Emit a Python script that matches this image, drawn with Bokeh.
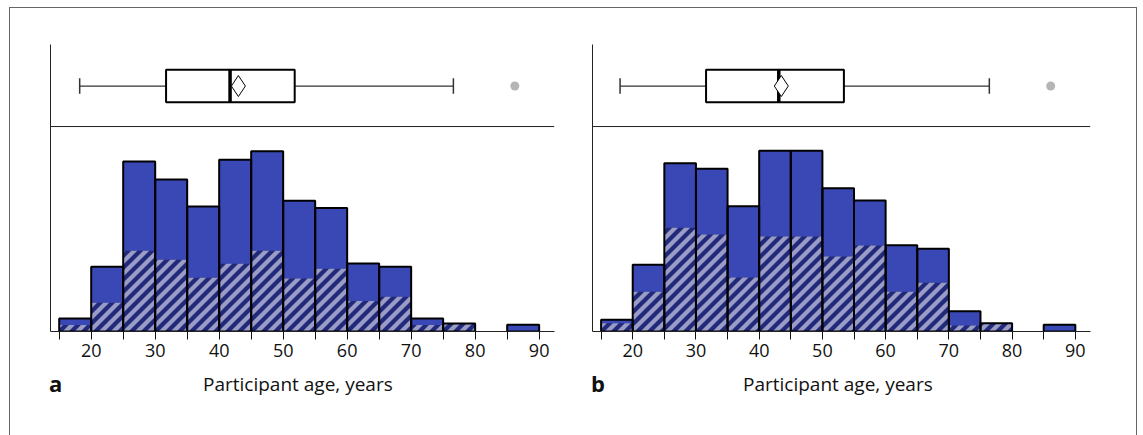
import math
from bokeh.plotting import figure
from bokeh.layouts import row, column
from bokeh.models import Range1d, FixedTicker, Span, Div, InlineStyleSheet
from bokeh.embed import file_html
from bokeh.resources import INLINE

# ---- data (values in % of participants) ----
bin_edges = [15, 20, 25, 30, 35, 40, 45, 50, 55, 60, 65, 70, 75, 80, 85, 90]

a_all = [1.01, 5.02, 13.18, 11.78, 9.69, 13.31, 13.98, 10.13, 9.57, 5.27, 5.02, 1.01, 0.62, 0.0, 0.52]
a_sub = [0.50, 2.22, 6.26, 5.56, 4.16, 5.25, 6.26, 4.11, 4.86, 2.36, 2.69, 0.50, 0.62, 0.0, 0.0]

b_all = [0.91, 5.17, 13.05, 12.61, 9.71, 14.01, 14.01, 11.11, 10.16, 6.69, 6.41, 1.57, 0.64, 0.0, 0.52]
b_sub = [0.64, 3.08, 8.04, 7.52, 4.19, 7.36, 7.36, 5.81, 6.67, 3.08, 3.78, 0.47, 0.64, 0.0, 0.0]

# box plot: lower whisker, Q1, median, Q3, upper whisker
a_box = [18.2, 31.7, 41.7, 51.8, 76.6]
a_mean = 43.0
a_outliers = [86.2]

b_box = [18.0, 31.6, 43.1, 53.4, 76.4]
b_mean = 43.5
b_outliers = [86.1]

major_ticks = [20, 30, 40, 50, 60, 70, 80, 90]
minor_ticks = [15, 25, 35, 45, 55, 65, 75, 85]
x_title = "Participant age, years"
panel_letters = ["a", "b"]

BLUE = "#3a48b5"
NAVY = "#20297a"
LIGHT = "#9a9cc6"
FONT = "Open Sans"
FIG_H = 368
X0, X1 = 13.64, 92.4
Y0, Y1 = 0, 22.25
STRIPE_PERIOD = 12.0   # px, horizontal
STRIPE_WIDTH = 6.0     # px, horizontal


def clip_half(poly, a, b, c):
    """Keep the part of a convex polygon where a*x + b*y <= c."""
    out = []
    n = len(poly)
    for i in range(n):
        P, Q = poly[i], poly[(i + 1) % n]
        fp = a * P[0] + b * P[1] - c
        fq = a * Q[0] + b * Q[1] - c
        if fp <= 0:
            out.append(P)
        if fp * fq < 0:
            t = fp / (fp - fq)
            out.append((P[0] + t * (Q[0] - P[0]), P[1] + t * (Q[1] - P[1])))
    return out


def stripe_patches(lefts, rights, tops, kx, ky):
    """45-degree '/' stripes inside each rectangle, computed in screen pixels."""
    xs, ys = [], []
    for l, r, t in zip(lefts, rights, tops):
        XL, XR, YT = (l - X0) * kx, (r - X0) * kx, t * ky
        rect = [(XL, 0.0), (XR, 0.0), (XR, YT), (XL, YT)]
        n0 = math.floor((XL - YT) / STRIPE_PERIOD) - 1
        n1 = math.ceil(XR / STRIPE_PERIOD) + 1
        for n in range(n0, n1 + 1):
            lo = n * STRIPE_PERIOD
            hi = lo + STRIPE_WIDTH
            poly = clip_half(rect, 1, -1, hi)
            if len(poly) >= 3:
                poly = clip_half(poly, -1, 1, -lo)
            if len(poly) >= 3:
                xs.append([X0 + px / kx for px, _ in poly])
                ys.append([py / ky for _, py in poly])
    return xs, ys


def make_panel(all_vals, sub_vals, box, mean, outliers, width, mb_left, mb_right):
    p = figure(width=width, height=FIG_H, x_range=Range1d(X0, X1),
               y_range=Range1d(Y0, Y1), output_backend="svg",
               toolbar_location=None, min_border_left=mb_left,
               min_border_right=mb_right, min_border_top=44,
               min_border_bottom=FIG_H - 331)
    p.grid.visible = False
    p.outline_line_color = None
    p.background_fill_color = "white"
    p.border_fill_color = "white"

    # y axis: line only
    p.yaxis.ticker = FixedTicker(ticks=[])
    p.yaxis.major_label_text_font_size = "0px"
    p.yaxis.major_tick_line_color = None
    p.yaxis.minor_tick_line_color = None
    p.yaxis.axis_line_color = "#222222"
    p.yaxis.axis_line_width = 1

    # x axis
    xa = p.xaxis[0]
    xa.ticker = FixedTicker(ticks=major_ticks, minor_ticks=minor_ticks)
    xa.major_tick_in = 0
    xa.major_tick_out = 8
    xa.minor_tick_in = 0
    xa.minor_tick_out = 8
    xa.major_tick_line_color = "#111111"
    xa.minor_tick_line_color = "#111111"
    xa.axis_line_color = "#222222"
    xa.axis_line_width = 1
    xa.major_label_text_font = FONT
    xa.major_label_text_font_size = "18px"
    xa.major_label_text_color = "#111111"
    xa.major_label_standoff = 4

    lefts = bin_edges[:-1]
    rights = bin_edges[1:]
    idx = [i for i, v in enumerate(all_vals) if v > 0]
    sidx = [i for i, v in enumerate(sub_vals) if v > 0]

    p.quad(left=[lefts[i] for i in idx], right=[rights[i] for i in idx],
           bottom=0, top=[all_vals[i] for i in idx],
           fill_color=BLUE, line_color=None)
    sl = [lefts[i] for i in sidx]
    sr = [rights[i] for i in sidx]
    st = [sub_vals[i] for i in sidx]
    p.quad(left=sl, right=sr, bottom=0, top=st, fill_color=NAVY, line_color=None)

    frame_w = width - mb_left - mb_right
    kx = frame_w / (X1 - X0)
    ky = 287.0 / (Y1 - Y0)
    sx, sy = stripe_patches(sl, sr, st, kx, ky)
    p.patches(xs=sx, ys=sy, fill_color=LIGHT, line_color=None)

    p.quad(left=[lefts[i] for i in idx], right=[rights[i] for i in idx],
           bottom=0, top=[all_vals[i] for i in idx],
           fill_color=None, line_color="black", line_width=2)

    # separator between box plot and histogram
    p.add_layout(Span(location=15.89, dimension="width",
                      line_color="#222222", line_width=1))

    # box plot
    wl, q1, med, q3, wh = box
    yc, half, cap = 19.03, 1.256, 0.6
    p.segment(x0=[wl, q3], x1=[q1, wh], y0=[yc, yc], y1=[yc, yc],
              line_color="#333333", line_width=1.3)
    p.segment(x0=[wl, wh], x1=[wl, wh], y0=[yc - cap] * 2, y1=[yc + cap] * 2,
              line_color="#333333", line_width=1.5)
    p.quad(left=[q1], right=[q3], bottom=[yc - half], top=[yc + half],
           fill_color="white", line_color="black", line_width=2)
    p.segment(x0=[med], x1=[med], y0=[yc - half], y1=[yc + half],
              line_color="black", line_width=3.5)
    p.scatter(x=[mean], y=[yc], marker="diamond", size=21,
              fill_color="white", line_color="black", line_width=1)
    p.scatter(x=outliers, y=[yc] * len(outliers), marker="circle", size=9,
              fill_color="#b5b5b5", line_color=None)
    return p


pa = make_panel(a_all, a_sub, a_box, a_mean, a_outliers, 571, 50, 17)
pb = make_panel(b_all, b_sub, b_box, b_mean, b_outliers, 572, 21, 53)

span_css = "position:absolute;white-space:nowrap;color:#111111;font-family:'Open Sans';margin:0;padding:0;"
html = (
    f"<div style='position:relative;width:1143px;height:67px;margin:0;padding:0;'>"
    f"<span style=\"{span_css}left:49px;top:4px;font-size:22px;line-height:22px;font-weight:bold;\">{panel_letters[0]}</span>"
    f"<span style=\"{span_css}left:203px;top:7px;font-size:19px;line-height:19px;\">{x_title}</span>"
    f"<span style=\"{span_css}left:591px;top:4px;font-size:22px;line-height:22px;font-weight:bold;\">{panel_letters[1]}</span>"
    f"<span style=\"{span_css}left:743px;top:7px;font-size:19px;line-height:19px;\">{x_title}</span>"
    f"</div>"
)
labels = Div(text=html, width=1143, height=435 - FIG_H, margin=0)

frame_css = InlineStyleSheet(css="""
:host { position: relative; overflow: hidden; }
:host::after {
  content: ''; position: absolute; left: 9px; top: 7px; right: 6px; bottom: -20px;
  border: 1.5px solid #666666; pointer-events: none; z-index: 10;
}
""")

layout = column(row(pa, pb), labels, stylesheets=[frame_css])
open("out.html", "w").write(file_html(layout, INLINE))
